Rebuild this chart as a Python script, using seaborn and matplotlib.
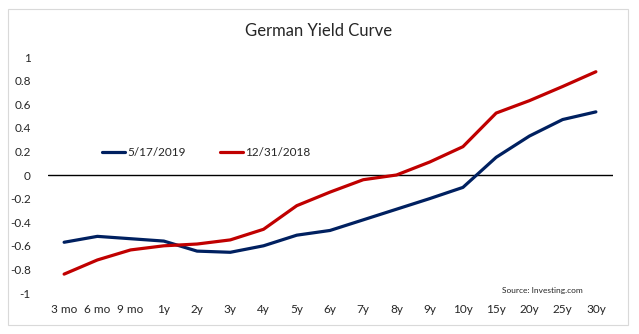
import matplotlib
matplotlib.use("Agg")
import matplotlib.pyplot as plt
from matplotlib.patches import Rectangle
from matplotlib.lines import Line2D
import seaborn as sns
import pandas as pd

maturities = ["3 mo", "6 mo", "9 mo", "1y", "2y", "3y", "4y", "5y", "6y",
              "7y", "8y", "9y", "10y", "15y", "20y", "25y", "30y"]
yields_2019 = [-0.57, -0.52, -0.54, -0.56, -0.645, -0.655, -0.60, -0.51, -0.47,
               -0.38, -0.29, -0.20, -0.105, 0.15, 0.33, 0.47, 0.535]
yields_2018 = [-0.84, -0.72, -0.635, -0.60, -0.585, -0.55, -0.46, -0.26, -0.145,
               -0.04, 0.0, 0.11, 0.24, 0.525, 0.63, 0.75, 0.875]
series_names = ["5/17/2019", "12/31/2018"]
y_ticks = [1, 0.8, 0.6, 0.4, 0.2, 0, -0.2, -0.4, -0.6, -0.8, -1]

df = pd.DataFrame({
    "maturity": maturities * 2,
    "pos": list(range(len(maturities))) * 2,
    "yield": yields_2019 + yields_2018,
    "series": [series_names[0]] * len(maturities) + [series_names[1]] * len(maturities),
})

sns.set_theme(style="white")
plt.rcParams["font.family"] = ["Lato", "DejaVu Sans"]

W, H = 639, 334
fig = plt.figure(figsize=(W / 100, H / 100), dpi=100)
fig.patch.set_facecolor("white")

# plot area in pixel coordinates
left, right, top, bottom = 47.5, 612.5, 48, 302
ax = fig.add_axes([left / W, 1 - bottom / H, (right - left) / W, (bottom - top) / H])

palette = {series_names[0]: "#002060", series_names[1]: "#C00000"}
sns.lineplot(data=df, x="pos", y="yield", hue="series", palette=palette,
             linewidth=2.3, ax=ax, legend=False, sort=False)

ax.axhline(0, color="black", linewidth=1.0, zorder=1)

ax.set_xlim(-0.5, len(maturities) - 0.5)
ylo = -1 - (bottom - 293) / 118
yhi = 1 + (57 - top) / 118
ax.set_ylim(ylo, yhi)
for s in ax.spines.values():
    s.set_visible(False)
ax.set_xlabel("")
ax.set_ylabel("")
ax.set_xticks([])
ax.set_yticks(y_ticks)
ax.set_yticklabels([f"{v:g}" for v in y_ticks], fontsize=8.5, color="#262626")
ax.tick_params(axis="y", length=0, pad=12)

# category labels sit below the plot area
for i, lab in enumerate(maturities):
    ax.text(i, ylo - 0.02, lab, ha="center", va="top", fontsize=8.5,
            color="#262626", transform=ax.transData, clip_on=False)

# legend
handles = [Line2D([], [], color=palette[n], linewidth=2.3) for n in series_names]
fig.legend(handles, series_names, loc="center left",
           bbox_to_anchor=(91 / W, 1 - 153 / H), ncol=2, frameon=False,
           fontsize=8.5, handlelength=2.0, handletextpad=0.15,
           columnspacing=2.9, labelcolor="#262626")

fig.text(319 / W, 1 - 31 / H, "German Yield Curve", ha="center", va="center",
         fontsize=12, color="#262626")
fig.text(502 / W, 1 - 290 / H, "Source: Investing.com", ha="left", va="center",
         fontsize=6, color="#262626")

fig.add_artist(Rectangle((8 / W, 1 - 325 / H), 620 / W, 316 / H,
                         transform=fig.transFigure, fill=False,
                         edgecolor="#D9D9D9", linewidth=0.8))

fig.savefig("out.png", dpi=100)
